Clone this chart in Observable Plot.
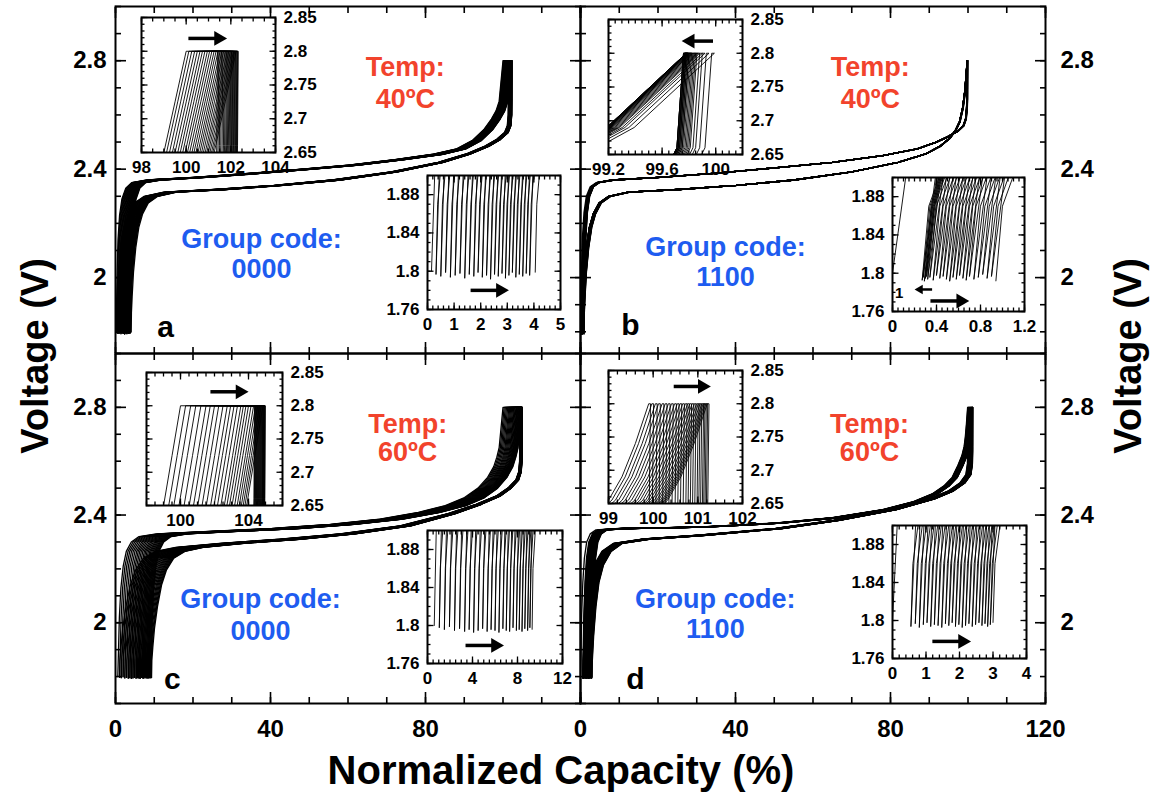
<!DOCTYPE html>
<html><head><meta charset="utf-8">
<script src="https://cdn.jsdelivr.net/npm/d3@7"></script>
<script src="https://cdn.jsdelivr.net/npm/@observablehq/plot@0.6"></script>
<style>
body{margin:0;background:#fff;}
#wrap{position:relative;width:1163px;height:792px;overflow:hidden;font-family:"Liberation Sans",Arial,Helvetica,sans-serif;}
.ttl{position:absolute;font-weight:bold;white-space:nowrap;color:#000;line-height:1;}
</style></head><body><div id="wrap"></div>
<script>
// ---------- axis tick labels ----------
const xTickLabelsLeft = [0, 40, 80];
const xTickLabelsRight = [0, 40, 80, 120];
const yTickLabels = [2, 2.4, 2.8];
const insetTopYLabels = [2.65, 2.7, 2.75, 2.8, 2.85];
const insetBotYLabels = [1.76, 1.8, 1.84, 1.88];

// ---------- panel a (40ºC, 0000) ----------
const aStart = [0.15,0.32,0.5,0.68,0.86,1.04,1.22,1.4,1.57,1.74,1.9,2.06,2.22,2.37,2.52,2.66,2.8,2.93,3.06,3.19,3.32,3.45,3.58,3.71,3.84];
const aLast = 4.05;
const aMinV = [1.8,1.797,1.795,1.799,1.794,1.796,1.798,1.793,1.797,1.795,1.799,1.794,1.796,1.792,1.797,1.795,1.798,1.793,1.796,1.799,1.794,1.797,1.795,1.798,1.796,1.799];
const aEnd = [100.0,100.12,100.25,100.38,100.5,100.62,100.73,100.84,100.95,101.05,101.15,101.25,101.34,101.43,101.52,101.6,101.68,101.76,101.84,101.91,101.98,102.05,102.12,102.18,102.24];
const aHold = [101.4,101.46,101.52,101.58,101.64,101.7,101.75,101.8,101.84,101.88,101.92,101.96,102.0,102.03,102.06,102.09,102.12,102.15,102.18,102.21,102.24,102.27,102.29,102.31,102.33];
const aChCap = [0,0.12,0.28,0.5,0.9,1.5,2.5,4,8,20,35,48,60,72,82,88,92,95,97,98.2,99,99.5,100];
const aChV   = [1.795,1.9,2.02,2.14,2.23,2.29,2.33,2.35,2.36,2.37,2.385,2.4,2.415,2.435,2.455,2.475,2.505,2.545,2.585,2.615,2.65,2.725,2.8];
const aDcCap = [100,99.97,99.93,99.7,99,97,94,89,82,70,55,40,25,12,7,4.5,3,2,1.2,0.6,0.25,0.06,0];
const aDcV   = [2.8,2.66,2.6,2.56,2.535,2.51,2.485,2.455,2.425,2.39,2.36,2.34,2.325,2.315,2.3,2.275,2.235,2.185,2.11,2.02,1.93,1.87,1.795];

// ---------- panel b (40ºC, 1100) ----------
const bStart = [0.0,0.27,0.28,0.29,0.3,0.31,0.32,0.34,0.37,0.4,0.43,0.46,0.49,0.52,0.55,0.58,0.61,0.64,0.67,0.7,0.74,0.78,0.82,0.86,0.9];
const bLast = 0.94;
const bMinV = [1.8,1.793,1.796,1.792,1.795,1.797,1.794,1.796,1.793,1.798,1.795,1.797,1.794,1.792,1.796,1.794,1.798,1.795,1.793,1.797,1.794,1.796,1.799,1.795,1.797,1.792];
const bEnd = [99.97,99.93,99.9,99.88,99.86,99.85,99.84,99.83,99.82,99.81,99.8,99.8,99.79,99.79,99.78,99.78,99.78,99.77,99.77,99.77,99.77,99.76,99.76,99.76,99.76];
const bHold = [99.99,99.95,99.92,99.9,99.88,99.87,99.86,99.85,99.84,99.83,99.82,99.82,99.81,99.81,99.8,99.8,99.8,99.79,99.79,99.79,99.79,99.78,99.78,99.78,99.78];
const bChCap = [0,0.12,0.25,0.5,0.9,1.5,2.5,4,8,20,35,50,65,78,87,92,95,97.5,99,99.6,99.85,99.95,100];
const bChV   = [1.795,1.9,2.03,2.15,2.24,2.3,2.335,2.35,2.36,2.37,2.385,2.405,2.425,2.45,2.475,2.5,2.52,2.54,2.56,2.585,2.62,2.66,2.8];
const bDcCap = [100,99.4,98.8,98,97,95.5,93,89,82,70,55,40,25,12,7,4.5,3,2,1.2,0.6,0.25,0.06,0];
const bDcV   = [2.8,2.69,2.625,2.575,2.545,2.515,2.485,2.455,2.425,2.39,2.36,2.34,2.325,2.315,2.3,2.275,2.235,2.185,2.11,2.02,1.93,1.87,1.795];

// ---------- panel c (60ºC, 0000) ----------
const cStart = [0.6,1.05,1.5,1.95,2.4,2.85,3.3,3.7,4.1,4.5,4.9,5.3,5.65,6.0,6.35,6.7,7.0,7.3,7.6,7.9,8.15,8.4,8.65,8.9,9.1];
const cLast = 9.3;
const cMinV = [1.8,1.798,1.796,1.799,1.795,1.797,1.794,1.796,1.793,1.795,1.797,1.794,1.796,1.795,1.793,1.797,1.795,1.794,1.798,1.795,1.796,1.794,1.797,1.795,1.798,1.796];
const cEnd = [100.0,100.3,100.6,100.9,101.2,101.5,101.75,102.0,102.25,102.5,102.75,102.95,103.15,103.35,103.55,103.7,103.85,104.0,104.15,104.3,104.42,104.54,104.65,104.75,104.85];
const cHold = [104.35,104.38,104.41,104.44,104.47,104.5,104.53,104.56,104.59,104.62,104.65,104.68,104.71,104.74,104.77,104.8,104.83,104.85,104.87,104.89,104.91,104.93,104.95,104.97,104.99];
const cChCap = [0,0.18,0.4,0.8,1.4,2.2,3.5,5.5,10,25,40,55,68,78,85,90,93.5,96,97.6,98.4,99,99.5,100];
const cChV   = [1.795,1.9,2.02,2.13,2.21,2.265,2.3,2.32,2.33,2.34,2.35,2.365,2.385,2.41,2.435,2.465,2.5,2.54,2.58,2.615,2.65,2.725,2.8];
const cDcCap = [100,99.97,99.93,99.7,99,97,94,89,82,70,55,40,25,14,9,6,4,2.7,1.6,0.8,0.35,0.08,0];
const cDcV   = [2.8,2.66,2.6,2.56,2.53,2.5,2.47,2.44,2.405,2.36,2.33,2.31,2.295,2.28,2.265,2.24,2.195,2.14,2.06,1.98,1.91,1.86,1.795];

// ---------- panel d (60ºC, 1100) ----------
const dStart = [0.0,0.55,0.68,0.8,0.92,1.03,1.14,1.25,1.36,1.47,1.58,1.68,1.78,1.88,1.98,2.08,2.18,2.28,2.38,2.48,2.58,2.67,2.76,2.84,2.92];
const dLast = 3.0;
const dMinV = [1.8,1.794,1.797,1.793,1.796,1.798,1.794,1.796,1.795,1.793,1.797,1.795,1.798,1.794,1.796,1.793,1.795,1.797,1.794,1.796,1.798,1.795,1.797,1.794,1.796,1.798];
const dEnd = [99.9,99.97,100.05,100.12,100.2,100.27,100.34,100.41,100.48,100.54,100.6,100.66,100.72,100.77,100.82,100.87,100.92,100.97,101.01,101.05,101.09,101.12,101.15,101.18,101.21];
const dHold = [99.94,100.01,100.09,100.16,100.24,100.31,100.38,100.45,100.52,100.58,100.64,100.7,100.76,100.81,100.86,100.91,100.96,101.01,101.05,101.09,101.13,101.16,101.19,101.22,101.25];
const dChCap = [0,0.14,0.3,0.6,1.0,1.6,2.5,4,10,30,50,65,78,86,91,94,96,97.5,98.5,99.1,99.4,99.7,100];
const dChV   = [1.795,1.9,2.03,2.15,2.24,2.3,2.33,2.345,2.35,2.355,2.37,2.39,2.42,2.45,2.48,2.51,2.54,2.585,2.62,2.655,2.69,2.74,2.8];
const dDcCap = [100,99.97,99.9,99.5,98,95,90,80,65,50,30,15,8,5,3,1.8,1.0,0.4,0.06,0];
const dDcV   = [2.8,2.64,2.59,2.55,2.52,2.49,2.46,2.42,2.38,2.35,2.325,2.31,2.295,2.265,2.215,2.15,2.06,1.95,1.86,1.795];

// ---------- build cycle rows ----------
function cycles(start, last, minV, end, hold, chCap, chV, dcCap, dcV) {
  const rows = [];
  const n = start.length;
  for (let i = 0; i < n; i++) {
    const s = start[i], e = end[i], h = hold[i];
    const d = i + 1 < n ? start[i + 1] : last;
    chCap.forEach((c, k) => rows.push({cycle: i, cap: s + c / 100 * (e - s), v: k === 0 ? minV[i] : chV[k]}));
    dcCap.forEach((c, k) => rows.push({cycle: i, cap: d + c / 100 * (h - d), v: k === dcCap.length - 1 ? minV[i + 1] : dcV[k]}));
  }
  return rows;
}
const rowsA = cycles(aStart, aLast, aMinV, aEnd, aHold, aChCap, aChV, aDcCap, aDcV);
const rowsB = cycles(bStart, bLast, bMinV, bEnd, bHold, bChCap, bChV, bDcCap, bDcV);
const rowsC = cycles(cStart, cLast, cMinV, cEnd, cHold, cChCap, cChV, cDcCap, cDcV);
const rowsD = cycles(dStart, dLast, dMinV, dEnd, dHold, dChCap, dChV, dDcCap, dDcV);

const FONT = '"Liberation Sans", Arial, Helvetica, sans-serif';
const RED = "#f2432c", BLUE = "#1e5cf0";
const fmt = d => String(d);
const wrap = document.getElementById("wrap");
function place(el, left, top) {
  el.style.position = "absolute";
  el.style.left = left + "px";
  el.style.top = top + "px";
  wrap.appendChild(el);
}
function ticksIn(dom, step) {
  const out = [];
  const k0 = Math.ceil(dom[0] / step - 1e-6), k1 = Math.floor(dom[1] / step + 1e-6);
  for (let k = k0; k <= k1; k++) out.push(+(k * step).toFixed(6));
  return out;
}

// ---------- main panels ----------
function mainPanel({rows, fx, fy, fw, fh, yDomain, side, bottom, xLabels, temp, code, letter, tx, tempY, codeX, codeY, letterPos}) {
  const ml = 70, mr = 70, mt = 12, mb = bottom ? 60 : 12;
  const xMinor = ticksIn([0, 120], 10), xMajor = [0, 40, 80, 120];
  const yMinor = ticksIn(yDomain, 0.1), yMajor = yTickLabels;
  const tick = (axis, data, anchor, size) => axis(data, {anchor, tickSize: size, fill: "none", strokeWidth: 1.6});
  const marks = [
    Plot.line(rows, {x: "cap", y: "v", z: "cycle", stroke: "black", strokeWidth: 1.3, clip: true}),
    Plot.text(["Temp:", temp], {x: () => tx, y: (d, i) => tempY[i], text: d => d, fill: RED, fontSize: 27, fontWeight: "bold"}),
    Plot.text(["Group code:", code], {x: () => codeX, y: (d, i) => codeY[i], text: d => d, fill: BLUE, fontSize: 27, fontWeight: "bold"}),
    Plot.text([letter], {x: () => letterPos[0], y: () => letterPos[1], text: d => d, fill: "black", fontSize: 30, fontWeight: "bold"}),
    tick(Plot.axisX, xMinor, "bottom", -6), tick(Plot.axisX, xMajor, "bottom", -11),
    tick(Plot.axisX, xMinor, "top", -6), tick(Plot.axisX, xMajor, "top", -11),
    tick(Plot.axisY, yMinor, "left", -6), tick(Plot.axisY, yMajor, "left", -11),
    tick(Plot.axisY, yMinor, "right", -6), tick(Plot.axisY, yMajor, "right", -11),
    Plot.axisY(yTickLabels, {anchor: side, tickSize: 0, tickPadding: side === "left" ? 9 : 15, fontSize: 24, fontWeight: "bold", fill: "black", tickFormat: fmt}),
    bottom ? Plot.axisX(xLabels, {anchor: "bottom", tickSize: 0, tickPadding: 16, fontSize: 24, fontWeight: "bold", fill: "black", tickFormat: fmt}) : null,
    Plot.frame({stroke: "black", strokeWidth: 2})
  ];
  const svg = Plot.plot({
    width: fw + ml + mr, height: fh + mt + mb,
    marginLeft: ml, marginRight: mr, marginTop: mt, marginBottom: mb,
    x: {domain: [0, 120], label: null}, y: {domain: yDomain, label: null},
    style: {background: "transparent", overflow: "visible", fontFamily: FONT, color: "black"},
    marks
  });
  place(svg, fx - ml, fy - mt);
}

mainPanel({rows: rowsA, fx: 115, fy: 6, fw: 465, fh: 347, yDomain: [1.72, 3.0], side: "left", bottom: false,
  temp: "40ºC", code: "0000", letter: "a", tx: 74.8, tempY: [2.774, 2.656], codeX: 37.7, codeY: [2.14, 2.029], letterPos: [12.9, 1.816]});
mainPanel({rows: rowsB, fx: 580, fy: 6, fw: 465, fh: 347, yDomain: [1.72, 3.0], side: "right", bottom: false,
  temp: "40ºC", code: "1100", letter: "b", tx: 74.8, tempY: [2.774, 2.656], codeX: 37.4, codeY: [2.111, 2.0], letterPos: [12.9, 1.823]});
mainPanel({rows: rowsC, fx: 115, fy: 353, fw: 465, fh: 350, yDomain: [1.7, 3.0], side: "left", bottom: true, xLabels: xTickLabelsLeft,
  temp: "60ºC", code: "0000", letter: "c", tx: 75.4, tempY: [2.737, 2.633], codeX: 37.4, codeY: [2.085, 1.967], letterPos: [14.7, 1.789]});
mainPanel({rows: rowsD, fx: 580, fy: 353, fw: 465, fh: 350, yDomain: [1.7, 3.0], side: "right", bottom: true, xLabels: xTickLabelsRight,
  temp: "60ºC", code: "1100", letter: "d", tx: 74.6, tempY: [2.737, 2.633], codeX: 34.8, codeY: [2.085, 1.974], letterPos: [14.2, 1.789]});

// ---------- insets ----------
function arrowMarks(arrows) {
  const out = [];
  for (const a of arrows) {
    out.push(Plot.link([a], {x1: "x1", x2: "x2", y1: "y", y2: "y", stroke: "black", strokeWidth: a.w || 3.5}));
    out.push(Plot.dot([a], {x: "x2", y: "y", symbol: "triangle", r: a.r || 5.5, fill: "black", stroke: "none", rotate: a.x2 > a.x1 ? 90 : -90}));
  }
  return out;
}
function inset({rows, fx, fy, fw, fh, xDomain, yDomain, xLabels, xStep, yLabels, yStep, ySide, arrows, extra = []}) {
  const ml = ySide === "left" ? 60 : 12, mr = ySide === "right" ? 60 : 12, mt = 10, mb = 34;
  const xMin = ticksIn(xDomain, xStep), yMin = ticksIn(yDomain, yStep);
  const tick = (axis, data, anchor, size) => axis(data, {anchor, tickSize: size, fill: "none", strokeWidth: 1.3});
  const marks = [
    Plot.frame({fill: "white", stroke: "none"}),
    Plot.line(rows, {x: "cap", y: "v", z: "cycle", stroke: "black", strokeWidth: 0.9, clip: true}),
    ...arrowMarks(arrows),
    ...extra,
    tick(Plot.axisX, xMin, "bottom", -3.5), tick(Plot.axisX, xLabels, "bottom", -6.5),
    tick(Plot.axisX, xMin, "top", -3.5), tick(Plot.axisX, xLabels, "top", -6.5),
    tick(Plot.axisY, yMin, "left", -3.5), tick(Plot.axisY, yLabels, "left", -6.5),
    tick(Plot.axisY, yMin, "right", -3.5), tick(Plot.axisY, yLabels, "right", -6.5),
    Plot.axisX(xLabels, {anchor: "bottom", tickSize: 0, tickPadding: 8, fontSize: 17, fontWeight: "bold", fill: "black", tickFormat: fmt}),
    Plot.axisY(yLabels, {anchor: ySide, tickSize: 0, tickPadding: 8, fontSize: 17, fontWeight: "bold", fill: "black", tickFormat: fmt}),
    Plot.frame({stroke: "black", strokeWidth: 2})
  ];
  const svg = Plot.plot({
    width: fw + ml + mr, height: fh + mt + mb,
    marginLeft: ml, marginRight: mr, marginTop: mt, marginBottom: mb,
    x: {domain: xDomain, label: null}, y: {domain: yDomain, label: null},
    style: {background: "transparent", overflow: "visible", fontFamily: FONT, color: "black"},
    marks
  });
  place(svg, fx - ml, fy - mt);
}

inset({rows: rowsA, fx: 141, fy: 17, fw: 134, fh: 135, xDomain: [98, 104], yDomain: [2.65, 2.85],
  xLabels: [98, 100, 102, 104], xStep: 0.5, yLabels: insetTopYLabels, yStep: 0.01, ySide: "right",
  arrows: [{x1: 100.1, x2: 101.45, y: 2.819}]});
inset({rows: rowsA, fx: 427, fy: 175, fw: 133, fh: 134, xDomain: [0, 5], yDomain: [1.76, 1.9],
  xLabels: [0, 1, 2, 3, 4, 5], xStep: 0.2, yLabels: insetBotYLabels, yStep: 0.01, ySide: "left",
  arrows: [{x1: 1.62, x2: 2.74, y: 1.78}]});
inset({rows: rowsB, fx: 608, fy: 19, fw: 134, fh: 135, xDomain: [99.2, 100.2], yDomain: [2.65, 2.85],
  xLabels: [99.2, 99.6, 100], xStep: 0.05, yLabels: insetTopYLabels, yStep: 0.01, ySide: "right",
  arrows: [{x1: 99.98, x2: 99.81, y: 2.818}]});
inset({rows: rowsB, fx: 892, fy: 177, fw: 132, fh: 134, xDomain: [0, 1.2], yDomain: [1.76, 1.9],
  xLabels: [0, 0.4, 0.8, 1.2], xStep: 0.05, yLabels: insetBotYLabels, yStep: 0.01, ySide: "left",
  arrows: [{x1: 0.36, x2: 0.25, y: 1.783, w: 2.5, r: 3.5}, {x1: 0.345, x2: 0.62, y: 1.771}],
  extra: [Plot.text(["1"], {x: () => 0.06, y: () => 1.779, text: d => d, fontSize: 15, fontWeight: "bold", fill: "black"})]});
inset({rows: rowsC, fx: 146, fy: 372, fw: 136, fh: 133, xDomain: [98, 106], yDomain: [2.65, 2.85],
  xLabels: [100, 104], xStep: 0.5, yLabels: insetTopYLabels, yStep: 0.01, ySide: "right",
  arrows: [{x1: 101.76, x2: 103.5, y: 2.821}]});
inset({rows: rowsC, fx: 427, fy: 530, fw: 135, fh: 133, xDomain: [0, 12], yDomain: [1.76, 1.9],
  xLabels: [0, 4, 8, 12], xStep: 0.5, yLabels: insetBotYLabels, yStep: 0.01, ySide: "left",
  arrows: [{x1: 3.38, x2: 6.04, y: 1.779}]});
inset({rows: rowsD, fx: 608, fy: 370, fw: 134, fh: 133, xDomain: [99, 102], yDomain: [2.65, 2.85],
  xLabels: [99, 100, 101, 102], xStep: 0.2, yLabels: insetTopYLabels, yStep: 0.01, ySide: "right",
  arrows: [{x1: 100.46, x2: 101.1, y: 2.826}]});
inset({rows: rowsD, fx: 892, fy: 525, fw: 134, fh: 133, xDomain: [0, 4], yDomain: [1.76, 1.9],
  xLabels: [0, 1, 2, 3, 4], xStep: 0.2, yLabels: insetBotYLabels, yStep: 0.01, ySide: "left",
  arrows: [{x1: 1.19, x2: 2.09, y: 1.778}]});

// ---------- axis titles ----------
function title(text, cx, cy, size, rotate) {
  const d = document.createElement("div");
  d.className = "ttl";
  d.textContent = text;
  d.style.fontSize = size + "px";
  d.style.left = cx + "px";
  d.style.top = cy + "px";
  d.style.transform = "translate(-50%,-50%)" + (rotate ? " rotate(-90deg)" : "");
  wrap.appendChild(d);
}
title("Normalized Capacity (%)", 561, 770, 40, false);
title("Voltage (V)", 35, 356, 38, true);
title("Voltage (V)", 1128, 356, 38, true);
</script></body></html>
